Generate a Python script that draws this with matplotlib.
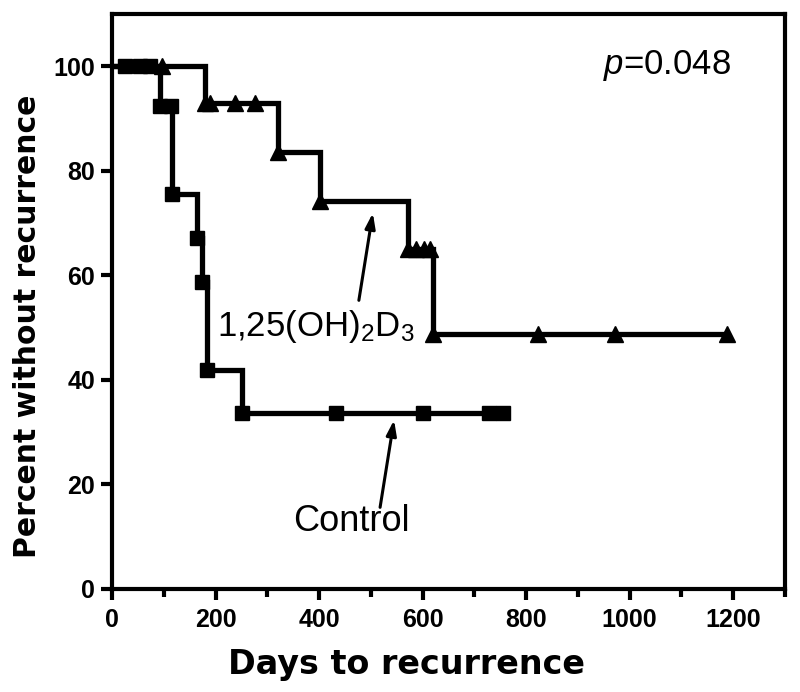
import matplotlib
matplotlib.use('Agg')
import matplotlib.pyplot as plt
from matplotlib.ticker import FixedLocator

plt.rcParams['font.family'] = ['Liberation Sans', 'DejaVu Sans']
plt.rcParams['mathtext.fontset'] = 'custom'
plt.rcParams['mathtext.rm'] = 'Liberation Sans'
plt.rcParams['mathtext.it'] = 'Liberation Sans:italic'

# Control group (squares): event days and survival after each event
ctrl_days = [93, 116, 164, 174, 184, 251]
ctrl_pct = [92.3, 75.5, 67.1, 58.7, 41.9, 33.6]
ctrl_cens_days = [25, 54, 73, 114, 433, 601, 728, 756]
ctrl_cens_pct = [100, 100, 100, 92.3, 33.6, 33.6, 33.6, 33.6]

# 1,25(OH)2D3 group (triangles)
vd_days = [180, 321, 402, 572, 620]
vd_pct = [92.86, 83.57, 74.29, 65.0, 48.75]
vd_cens_days = [97, 190, 238, 276, 588, 602, 614, 823, 972, 1188]
vd_cens_pct = [100, 92.86, 92.86, 92.86, 65.0, 65.0, 65.0, 48.75, 48.75, 48.75]

x_ticks = [0, 200, 400, 600, 800, 1000, 1200]
x_minor = [100, 300, 500, 700, 900, 1100, 1300]
y_ticks = [0, 20, 40, 60, 80, 100]

fig = plt.figure(figsize=(8, 6.92), dpi=100)
ax = fig.add_axes([0.14, 0.149, 0.841, 0.831])

lw = 3.8


def km_curve(days, pct, cens_days, cens_pct, marker, ms):
    end = max(cens_days[-1], days[-1])
    xs = [0] + days + [end]
    ys = [100] + pct + [pct[-1]]
    ax.step(xs, ys, where='post', color='black', lw=lw,
            solid_joinstyle='miter', solid_capstyle='butt', zorder=3)
    ax.plot(days, pct, ls='none', marker=marker, ms=ms, color='black',
            zorder=4, clip_on=False)
    ax.plot(cens_days, cens_pct, ls='none', marker=marker, ms=ms,
            color='black', zorder=4, clip_on=False)


km_curve(vd_days, vd_pct, vd_cens_days, vd_cens_pct, '^', 11)
km_curve(ctrl_days, ctrl_pct, ctrl_cens_days, ctrl_cens_pct, 's', 9.5)

ax.set_xlim(0, 1300)
ax.set_ylim(0, 110)
ax.xaxis.set_major_locator(FixedLocator(x_ticks))
ax.xaxis.set_minor_locator(FixedLocator(x_minor))
ax.yaxis.set_major_locator(FixedLocator(y_ticks))

for s in ax.spines.values():
    s.set_linewidth(3)
ax.tick_params(axis='both', which='major', length=8, width=3,
               labelsize=18, direction='out')
ax.tick_params(axis='x', which='minor', length=6, width=3, direction='out')
ax.tick_params(axis='x', which='major', pad=6)
ax.tick_params(axis='y', which='major', pad=4)
for lab in ax.get_xticklabels() + ax.get_yticklabels():
    lab.set_fontweight('bold')

# axis titles (wider bold face, as in the original)
ax.set_xlabel('Days to recurrence', fontsize=24, fontweight='bold',
              family='DejaVu Sans')
ax.set_ylabel('Percent without recurrence', fontsize=21.5, fontweight='bold',
              family='DejaVu Sans')
ax.xaxis.set_label_coords(0.438, -0.103)
ax.yaxis.set_label_coords(-0.104, 0.456)

# annotations
arrow = dict(arrowstyle='-|>,head_length=0.9,head_width=0.3', lw=2.2,
             color='black', shrinkA=0, shrinkB=0)
ax.text(203, 48.3, r'1,25(OH)$_2$D$_3$', fontsize=25, ha='left',
        va='baseline')
ax.annotate('', xy=(504, 71.9), xytext=(477, 55.2), arrowprops=arrow)
ax.text(350, 11.0, 'Control', fontsize=26, ha='left', va='baseline')
ax.annotate('', xy=(545, 32.3), xytext=(518, 15.6), arrowprops=arrow)
ax.text(949, 98.5, r'$p$=0.048', fontsize=25, ha='left', va='baseline')

fig.savefig('out.png', dpi=100)
